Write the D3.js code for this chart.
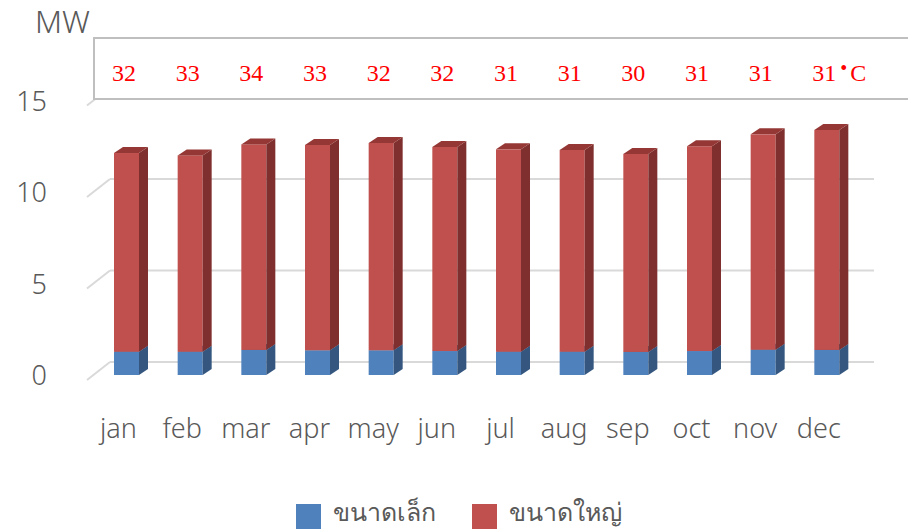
<!DOCTYPE html>
<html lang="th">
<head>
  <meta charset="UTF-8">
  <title>MW</title>
  <script src="https://d3js.org/d3.v7.min.js"></script>
  <style>
    body { margin: 0; background: #fff; }
    svg { display: block; }
  </style>
</head>
<body>
  <svg></svg>
  <script>
    const months = ["jan", "feb", "mar", "apr", "may", "jun", "jul", "aug", "sep", "oct", "nov", "dec"];
    const small = [1.27, 1.27, 1.37, 1.35, 1.35, 1.31, 1.27, 1.27, 1.26, 1.31, 1.38, 1.37];
    const total = [12.13, 12.0, 12.6, 12.57, 12.68, 12.46, 12.33, 12.3, 12.08, 12.5, 13.15, 13.39];
    const large = total.map((t, i) => +(t - small[i]).toFixed(2));
    const temps = [32, 33, 34, 33, 32, 32, 31, 31, 30, 31, 31, 31];
    const yTicks = [0, 5, 10, 15];
    const seriesNames = ["ขนาดเล็ก", "ขนาดใหญ่"];

    const W = 908, H = 531;
    const svg = d3.select("svg").attr("width", W).attr("height", H);
    const sans = "'Segoe UI', 'Noto Sans', 'Open Sans', 'DejaVu Sans', sans-serif";

    const x = d3.scaleBand().domain(months).range([110, 874]);
    const y = d3.scaleLinear().domain([0, 15]).range([375, 100.5]);
    const barOff = 4, barW = 25, dx = 9, dy = -6;
    const backDx = 23, backDy = -18;

    const colors = [
      { front: "#4F81BD", side: "#34567F", top: "#41699A" },
      { front: "#C0504D", side: "#7F302E", top: "#953735" }
    ];

    // grid: back wall lines + floor diagonals
    const grid = svg.append("g");
    yTicks.forEach(v => {
      const fy = y(v) + 5;
      grid.append("line")
        .attr("x1", 87).attr("y1", fy)
        .attr("x2", 87 + backDx).attr("y2", fy + backDy)
        .attr("stroke", "#D9D9D9").attr("stroke-width", 2);
      grid.append("line")
        .attr("x1", 87 + backDx).attr("y1", fy + backDy)
        .attr("x2", 874).attr("y2", fy + backDy)
        .attr("stroke", "#D9D9D9").attr("stroke-width", 2);
    });

    // y tick labels
    svg.append("g").selectAll("text").data(yTicks).join("text")
      .attr("x", 47).attr("y", d => y(d) + 3)
      .attr("text-anchor", "end").attr("dominant-baseline", "middle")
      .attr("font-family", sans).attr("font-size", 27).attr("font-weight", 300)
      .attr("fill", "#595959")
      .text(d => d);

    svg.append("text")
      .attr("x", 35).attr("y", 33)
      .attr("font-family", sans).attr("font-size", 31).attr("font-weight", 300)
      .attr("fill", "#595959").text("MW");

    // stacked 3D bars
    const stacks = [small, large];
    const bars = svg.append("g");
    months.forEach((m, i) => {
      let base = 0;
      stacks.forEach((vals, s) => {
        const v0 = base, v1 = base + vals[i];
        base = v1;
        const bx = x(m) + barOff;
        const yt = y(v1), yb = y(v0);
        const c = colors[s];
        const g = bars.append("g");
        g.append("rect")
          .attr("x", bx).attr("y", yt).attr("width", barW).attr("height", yb - yt)
          .attr("fill", c.front);
        g.append("path")
          .attr("d", `M${bx + barW},${yt}L${bx + barW + dx},${yt + dy}L${bx + barW + dx},${yb + dy}L${bx + barW},${yb}Z`)
          .attr("fill", c.side);
        g.append("path")
          .attr("d", `M${bx},${yt}L${bx + barW},${yt}L${bx + barW + dx},${yt + dy}L${bx + dx},${yt + dy}Z`)
          .attr("fill", c.top);
      });
    });

    // month labels
    svg.append("g").selectAll("text").data(months).join("text")
      .attr("x", d => x(d) + 8.5).attr("y", 438)
      .attr("text-anchor", "middle")
      .attr("font-family", sans).attr("font-size", 27).attr("font-weight", 300)
      .attr("fill", "#595959")
      .text(d => d);

    // temperature box
    svg.append("rect")
      .attr("x", 94).attr("y", 38).attr("width", 830).attr("height", 61)
      .attr("fill", "#fff").attr("stroke", "#BFBFBF").attr("stroke-width", 2);

    const tempText = svg.append("g").selectAll("text").data(temps).join("text")
      .attr("x", (d, i) => x(months[i]) + 14 - 12).attr("y", 81)
      .attr("font-family", "'Liberation Serif', 'Times New Roman', serif")
      .attr("font-size", 24).attr("fill", "#FF0000")
      .text(d => d);
    const last = d3.select(tempText.nodes()[temps.length - 1]);
    last.append("tspan").attr("dx", 4).attr("dy", -6).attr("font-size", 20).text("•");
    last.append("tspan").attr("dx", 3).attr("dy", 6).text("C");

    // legend
    const legend = svg.append("g");
    const legendX = [296, 472];
    seriesNames.forEach((n, i) => {
      legend.append("rect")
        .attr("x", legendX[i]).attr("y", 504).attr("width", 25).attr("height", 25)
        .attr("fill", colors[i].front);
      legend.append("text")
        .attr("x", legendX[i] + 37).attr("y", 521)
        .attr("font-family", sans).attr("font-size", 25).attr("font-weight", 300)
        .attr("fill", "#595959").text(n);
    });
  </script>
</body>
</html>
